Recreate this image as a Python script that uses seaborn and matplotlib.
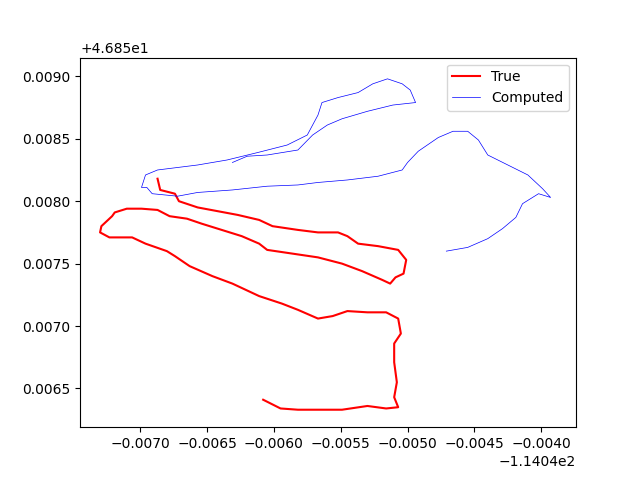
import matplotlib
matplotlib.use("Agg")
import matplotlib.pyplot as plt
import seaborn as sns
import numpy as np

X0, Y0 = -114.04, 46.85
true_x = [-68.7,-68.5,-67.4,-67.1,-65.7,-64.2,-62.7,-61.1,-60.1,-58.2,-56.7,-55.2,-54.5,-53.7,-52.2,-50.7,-50.1,-50.3,-50.9,-51.3,
          -51.9,-53.4,-54.9,-56.7,-58.6,-60.5,-61.1,-62.4,-63.9,-65.4,-66.5,-67.8,-68.7,-69.9,-71.0,-71.9,-72.1,-72.9,-73.0,-72.3,
          -70.6,-69.6,-68.0,-67.4,-66.3,-64.6,-63.1,-61.1,-59.4,-58.2,-56.7,-55.6,-54.5,-53.0,-51.6,-50.7,-50.5,-51.0,-51.0,-50.8,
          -51.0,-50.7,-51.6,-53.0,-54.9,-56.0,-58.2,-59.5,-60.8]
true_y = [81.8,80.9,80.6,80.0,79.5,79.2,78.9,78.5,78.0,77.7,77.5,77.5,77.2,76.6,76.4,76.1,75.3,74.2,73.9,73.4,
          73.7,74.4,75.0,75.5,75.8,76.1,76.6,77.2,77.7,78.2,78.6,78.8,79.3,79.4,79.4,79.1,78.8,78.0,77.5,77.1,
          77.1,76.6,76.0,75.6,74.8,74.0,73.4,72.4,71.8,71.3,70.6,70.8,71.2,71.1,71.1,70.6,69.4,68.6,67.1,65.5,
          64.3,63.5,63.4,63.6,63.3,63.3,63.3,63.4,64.1]
comp_x = [-47.1,-45.5,-44.0,-42.9,-41.9,-41.4,-40.2,-39.3,-39.9,-41.0,-42.5,-44.0,-44.7,-45.5,-46.6,-47.7,-49.2,-50.0,-50.4,-52.2,
          -54.5,-56.7,-58.2,-60.5,-63.1,-65.7,-67.2,-69.1,-69.5,-69.9,-69.6,-68.7,-65.7,-63.5,-61.2,-59.0,-57.5,-56.7,-56.4,-55.2,
          -53.7,-52.6,-51.5,-50.4,-49.8,-49.4,-51.1,-53.0,-54.9,-56.0,-57.1,-58.2,-60.5,-62.0,-63.1]
comp_y = [76.0,76.3,77.0,77.8,78.7,79.8,80.6,80.3,81.0,82.1,82.9,83.7,84.9,85.6,85.6,85.1,84.0,83.1,82.5,82.0,
          81.7,81.5,81.3,81.2,80.9,80.7,80.4,80.6,81.1,81.1,82.1,82.5,82.9,83.3,83.9,84.5,85.3,86.9,87.9,88.3,
          88.7,89.4,89.8,89.4,88.9,87.9,87.7,87.2,86.6,86.1,85.3,84.1,83.7,83.6,83.1]

tx = X0 + np.array(true_x) * 1e-4
ty = Y0 + np.array(true_y) * 1e-4
cx = X0 + np.array(comp_x) * 1e-4
cy = Y0 + np.array(comp_y) * 1e-4

fig, ax = plt.subplots(figsize=(6.4, 4.8), dpi=100)
sns.lineplot(x=tx, y=ty, sort=False, estimator=None, color="red", linewidth=1.5, label="True", ax=ax)
sns.lineplot(x=cx, y=cy, sort=False, estimator=None, color="blue", linewidth=0.5, label="Computed", ax=ax)
ax.set_xlim(X0 - 0.00745, X0 - 0.00374)
ax.set_ylim(Y0 + 0.00619, Y0 + 0.00915)
ax.legend(loc="upper right")
fig.savefig("out.png")
